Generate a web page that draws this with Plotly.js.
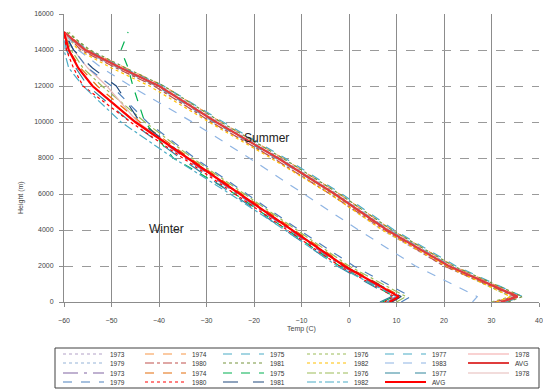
<!DOCTYPE html>
<html><head><meta charset="utf-8">
<script src="https://cdn.plot.ly/plotly-3.0.1.min.js"></script>
<style>html,body{margin:0;padding:0;background:#fff}#chart{width:543px;height:389px}</style>
</head><body><div id="chart"></div>
<script>
// Heights (m) at which each profile is sampled
const heights = [0, 300, 2000, 4000, 6000, 8000, 10000, 12000, 13000, 14000, 15000];

// Summer profiles (deg C)
const sum1973 = [31, 34.5, 20, 7, -4, -16, -29, -41, -49, -56, -60];
const sum1974 = [33, 36, 22, 9, -2, -14, -27, -39, -47, -55, -60];
const sum1975 = [32.5, 35, 21.5, 8.5, -3, -15.5, -28.5, -40.5, -48.5, -56, -60.5];
const sum1976 = [30, 34, 20.5, 8, -3.5, -15, -28, -40, -48, -55, -59];
const sum1977 = [33, 36.5, 22.5, 9.5, -1.5, -13.5, -26.5, -39, -47.5, -55, -60];
const sum1978 = [31.5, 35, 21, 8, -3, -15, -28, -40, -48, -56, -60];
const sum1979 = [32, 35.5, 21.5, 8.5, -2.5, -14.5, -27.5, -39.5, -48, -55.5, -60];
const sum1980 = [30.5, 35, 20, 7.5, -4, -16, -29, -41, -49, -56.5, -60];
const sum1981 = [33.5, 36.5, 22, 9, -2, -14, -27, -39, -47, -54.5, -59.5];
const sum1982 = [31, 34, 20.5, 7, -4, -16.5, -29.5, -42, -50, -57, -60];
const sum1983 = [26, 27, 14, 2, -9.5, -21, -33, -46, -52, -57, -60];
const sumAvg  = [32, 35.5, 21, 8, -3, -15, -28, -40, -48, -55.5, -60];

// Winter profiles (deg C)
const win1973 = [8, 10, -1.5, -12.5, -23.5, -34.5, -45, -54, -57, -59, -60];
const win1974 = [9, 11, -0.5, -11.5, -22.5, -33.5, -44, -53, -56.5, -59, -60];
const win1975 = [7, 9.5, -2, -13, -24, -37, -43, -45.5, -46.5, -48, -46.5];
const win1976 = [10, 12, 0, -11, -22, -33, -43, -52, -56, -58.5, -60];
const win1977 = [6.5, 9, -2.5, -13.5, -24.5, -35.5, -46, -55, -57.5, -59.5, -60];
const win1978 = [8.5, 10.5, -1, -12, -23, -34, -44.5, -51, -55, -58, -60];
const win1979 = [11, 13, 1, -10.5, -21.5, -32.5, -42.5, -50, -55, -58, -60];
const win1980 = [7.5, 9.5, -2, -13, -24, -35, -46, -56, -58, -59.5, -60];
const win1981 = [9, 11, -1, -12, -23, -34, -44, -49, -54, -58, -60];
const win1982 = [8, 10, -2.5, -13.5, -25, -37, -48, -56, -59, -60, -60];
const winAvg  = [8.5, 10.5, -1, -12, -23, -34, -45, -54, -57, -59, -60];

const legendLabels = ['1973','1974','1975','1976','1977','1978','1979','1980','1981','1982','1983','AVG',
                      '1973','1974','1975','1976','1977','1978','1979','1980','1981','1982','AVG'];
const series = [sum1973,sum1974,sum1975,sum1976,sum1977,sum1978,sum1979,sum1980,sum1981,sum1982,sum1983,sumAvg,
                win1973,win1974,win1975,win1976,win1977,win1978,win1979,win1980,win1981,win1982,winAvg];

const styles = [
  ['#B3A2C7','dot',1.2], ['#F79646','dash',1.2], ['#4BACC6','dash',1.2], ['#9BBB59','dot',1.2],
  ['#4BACC6','dash',1.2], ['#F4A6A6','solid',1.2], ['#95B3D7','dot',1.2], ['#C0504D','dashdot',1.2],
  ['#77933C','dot',1.2], ['#FFC000','dot',1.2], ['#8EB4E3','dash',1.2], ['#E03C3C','solid',2.2],
  ['#8064A2','longdashdot',1.2], ['#E46C0A','dash',1.2], ['#00B050','dash',1.2], ['#9BBB59','dashdot',1.2],
  ['#31859C','longdash',1.2], ['#E6B9B8','solid',1.2], ['#4F81BD','dash',1.2], ['#FF0000','dot',1.2],
  ['#1F497D','longdash',1.2], ['#4BACC6','dashdot',1.2], ['#FF0000','solid',2.2]
];

const traces = series.map((t, i) => ({
  type: 'scatter', mode: 'lines', x: t, y: heights, name: legendLabels[i],
  line: {color: styles[i][0], dash: styles[i][1], width: styles[i][2]},
  showlegend: false
}));

// pixel helpers for legend box
const L = 64, T = 14, W = 475, H = 288;
const px = x => (x - L) / W;
const py = y => (T + H - y) / H;

const shapes = [{type:'rect', xref:'paper', yref:'paper', x0: px(55), x1: px(539), y0: py(348), y1: py(388),
  line:{color:'#404040', width:1}, fillcolor:'rgba(0,0,0,0)'}];
const annotations = [
  {x:-17.3, y:9100, xref:'x', yref:'y', text:'Summer', showarrow:false, font:{size:12, color:'#222', family:'Liberation Sans'}},
  {x:-38.5, y:4050, xref:'x', yref:'y', text:'Winter', showarrow:false, font:{size:12, color:'#222', family:'Liberation Sans'}},
  {x:0.5, y:py(335), xref:'paper', yref:'paper', text:'Temp (C)', showarrow:false, font:{size:7, color:'#444'}},
  {x:px(15), y:py(198), xref:'paper', yref:'paper', text:'Height (m)', textangle:-90, showarrow:false, font:{size:7, color:'#444'}}
];
const textStarts = [108, 190, 268, 352, 430, 513];
const rowYs = [354, 363, 373, 382];
legendLabels.forEach((lab, i) => {
  const r = Math.floor(i / 6), c = i % 6;
  const tx = textStarts[c], ty = rowYs[r];
  shapes.push({type:'line', xref:'paper', yref:'paper', x0: px(tx-45), x1: px(tx-4), y0: py(ty), y1: py(ty),
    line:{color: styles[i][0], dash: styles[i][1], width: styles[i][2]}});
  annotations.push({x: px(tx), y: py(ty), xref:'paper', yref:'paper', xanchor:'left', yanchor:'middle',
    text: lab, showarrow:false, font:{size:6.5, color:'#333'}});
});

const layout = {
  width: 543, height: 389,
  margin: {l: L, r: 4, t: T, b: 389 - T - H},
  paper_bgcolor: '#fff', plot_bgcolor: '#fff',
  font: {family: 'Liberation Sans, Arial, sans-serif', size: 7, color: '#444'},
  showlegend: false,
  xaxis: {range: [-60, 40], dtick: 10, tick0: -60, showgrid: true, gridcolor: '#8c8c8c', gridwidth: 1,
    showline: true, linecolor: '#8c8c8c', ticks: 'outside', ticklen: 4, tickcolor: '#8c8c8c',
    zeroline: false, tickfont: {size: 7, color: '#444'}, ticklabelstandoff: 8, fixedrange: true},
  yaxis: {range: [0, 16000], dtick: 2000, tickformat: 'd', showgrid: true, gridcolor: '#9a9a9a', griddash: 'dash', gridwidth: 1,
    showline: true, linecolor: '#8c8c8c', ticks: 'outside', ticklen: 4, tickcolor: '#8c8c8c',
    zeroline: false, tickfont: {size: 7, color: '#444'}, ticklabelstandoff: 4, fixedrange: true},
  shapes: shapes,
  annotations: annotations
};

Plotly.newPlot('chart', traces, layout, {displayModeBar: false, staticPlot: true});
</script>
</body></html>
